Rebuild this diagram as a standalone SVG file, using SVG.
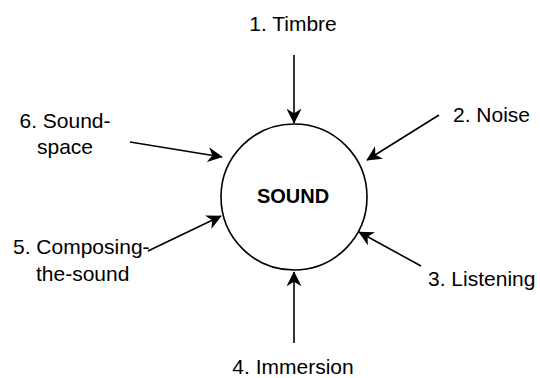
<svg xmlns="http://www.w3.org/2000/svg" width="540" height="378" viewBox="0 0 540 378">
<style>
text{font-family:"Liberation Sans",Arial,Helvetica,sans-serif;font-size:21px;fill:#000}
.c{text-anchor:middle}
.e{stroke:#000;stroke-width:1.6;fill:none;marker-end:url(#ah)}
</style>
<defs>
<marker id="ah" viewBox="0 0 10 10" refX="9.5" refY="5" markerWidth="15" markerHeight="15" markerUnits="userSpaceOnUse" orient="auto">
<path d="M0,0 L10,5 L0,10 L3,5 Z" fill="#000"/>
</marker>
</defs>
<rect width="540" height="378" fill="#fff"/>
<g id="connectors">
<line class="e" x1="294" y1="55" x2="294" y2="123"/>
<line class="e" x1="439" y1="115" x2="367" y2="160"/>
<line class="e" x1="421" y1="266" x2="359" y2="232"/>
<line class="e" x1="294" y1="343" x2="294" y2="272"/>
<line class="e" x1="148" y1="251" x2="221" y2="216"/>
<line class="e" x1="130" y1="142" x2="222" y2="157"/>
</g>
<g id="sound">
<circle cx="294" cy="197" r="73" fill="#fff" stroke="#000" stroke-width="1.6"/>
<text class="c" x="293" y="203" font-weight="bold" style="font-size:20px">SOUND</text>
</g>
<g id="n1"><text class="c" x="293" y="31">1. Timbre</text></g>
<g id="n2"><text x="453" y="122">2. Noise</text></g>
<g id="n3"><text x="428" y="286">3. Listening</text></g>
<g id="n4"><text class="c" x="293" y="374">4. Immersion</text></g>
<g id="n5"><text x="13" y="254">5. Composing-</text><text x="36" y="281">the-sound</text></g>
<g id="n6"><text class="c" x="65" y="128">6. Sound-</text><text class="c" x="65" y="154">space</text></g>
</svg>
